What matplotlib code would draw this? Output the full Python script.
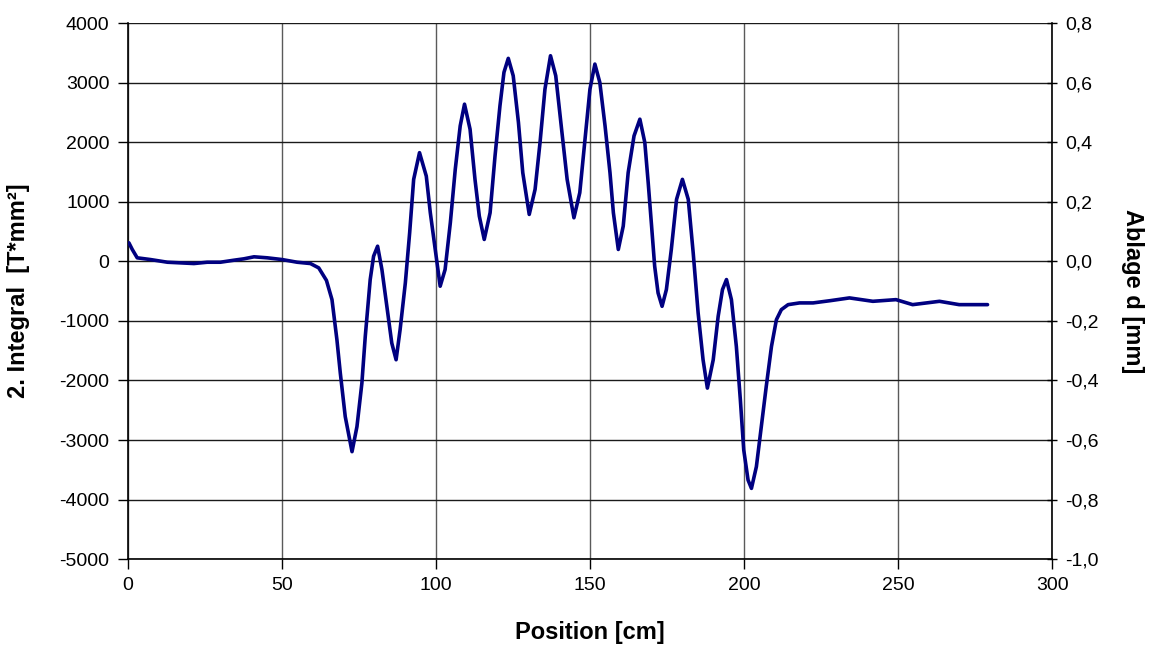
import matplotlib
matplotlib.use("Agg")
import matplotlib.pyplot as plt
from matplotlib.ticker import FuncFormatter

plt.rcParams['font.family'] = ['Liberation Sans', 'DejaVu Sans']
plt.rcParams['axes.unicode_minus'] = False

# Position [cm] and 2. Integral [T*mm²]
position = [0.4, 1.5, 3.1, 7.4, 12.9, 17.2, 21.5, 25.8, 30.1, 34.5, 37.7, 41.0, 45.3,
            50.1, 55.0, 59.3, 62.0, 64.5, 66.3, 67.9, 69.0, 70.6, 72.8, 74.4, 76.0,
            77.1, 78.7, 79.8, 81.1, 82.5, 84.1, 85.7, 87.1, 88.4, 90.1, 91.5, 92.8,
            94.7, 96.9, 98.2, 99.8, 101.4, 103.0, 104.7, 106.3, 107.9, 109.3, 111.1,
            112.7, 114.1, 115.7, 117.6, 119.2, 120.8, 122.1, 123.5, 125.1, 126.8,
            128.2, 130.3, 132.2, 133.8, 135.4, 137.2, 138.9, 140.8, 142.6, 144.8,
            146.7, 148.4, 150.0, 151.6, 153.2, 154.9, 156.5, 157.6, 159.2, 160.8,
            162.4, 164.3, 166.2, 167.8, 168.9, 170.0, 171.0, 172.1, 173.4, 174.8,
            176.4, 178.1, 180.0, 181.9, 183.5, 185.1, 186.7, 188.1, 190.0, 191.6,
            193.0, 194.3, 195.9, 197.5, 198.8, 199.9, 201.3, 202.4, 204.0, 205.6,
            207.2, 208.9, 210.5, 212.1, 214.3, 218.0, 222.4, 228.0, 234.2, 241.8,
            249.3, 254.7, 263.4, 269.8, 279.0]
integral = [311, 199, 59, 30, -15, -26, -37, -15, -15, 19, 42, 76, 59,
            30, -15, -37, -110, -320, -643, -1316, -1876, -2606, -3195, -2775, -2045,
            -1260, -306, 86, 254, -138, -755, -1372, -1652, -1148, -362, 479, 1375,
            1824, 1430, 816, 199, -418, -138, 648, 1545, 2273, 2638, 2217,
            1375, 759, 367, 815, 1768, 2610, 3172, 3407, 3115, 2330,
            1489, 787, 1208, 1994, 2890, 3451, 3115, 2217, 1375, 731,
            1152, 2049, 2890, 3311, 3003, 2273, 1489, 816, 199, 591,
            1489, 2105, 2386, 1994, 1320, 591, -82, -530, -755, -474,
            199, 1040, 1376, 1040, 143, -866, -1652, -2128, -1652, -923,
            -474, -306, -643, -1428, -2325, -3166, -3671, -3811, -3447, -2774,
            -2101, -1428, -979, -811, -727, -698, -698, -660, -614, -671,
            -643, -727, -671, -727, -727]

x_ticks = [0, 50, 100, 150, 200, 250, 300]
left_ticks = [4000, 3000, 2000, 1000, 0, -1000, -2000, -3000, -4000, -5000]
right_ticks = [0.8, 0.6, 0.4, 0.2, 0.0, -0.2, -0.4, -0.6, -0.8, -1.0]

fig = plt.figure(figsize=(11.5, 6.45), dpi=100)
ax = fig.add_axes([0.111, 0.133, 0.804, 0.8313])

ax.plot(position, integral, color='#000080', lw=2.6, solid_joinstyle='round',
        solid_capstyle='round', zorder=3)

ax.set_xlim(0, 300)
ax.set_ylim(-5000, 4000)
ax.set_xticks(x_ticks)
ax.set_yticks(left_ticks)
ax.xaxis.grid(True, color='#5a5a5a', lw=1.0, zorder=0)
ax.yaxis.grid(True, color='#1a1a1a', lw=1.0, zorder=0)
ax.set_axisbelow(True)
for s in ['top', 'right']:
    ax.spines[s].set_visible(False)
for s in ['left', 'bottom']:
    ax.spines[s].set_color('black')
    ax.spines[s].set_linewidth(1.2)

ax.tick_params(axis='both', labelsize=14, length=7, width=1, colors='black', pad=6)
ax.set_xlabel('Position [cm]', fontsize=17, fontweight='bold', labelpad=19)
ax.set_ylabel('2. Integral  [T*mm²]', fontsize=17, fontweight='bold', labelpad=21)

ax2 = ax.twinx()
ax2.set_ylim(-1.0, 0.8)
ax2.set_yticks(right_ticks)
ax2.yaxis.set_major_formatter(FuncFormatter(lambda v, p: f"{v:.1f}".replace('.', ',').replace('-0,0', '0,0')))
for s in ['top', 'left', 'bottom']:
    ax2.spines[s].set_visible(False)
ax2.spines['right'].set_color('black')
ax2.spines['right'].set_linewidth(1.2)
ax2.tick_params(axis='y', labelsize=14, length=7, width=1, direction='inout', pad=6)
ax2.set_ylabel('Ablage d [mm]', fontsize=17, fontweight='bold', rotation=-90, labelpad=32)

fig.savefig('out.png', dpi=100)
